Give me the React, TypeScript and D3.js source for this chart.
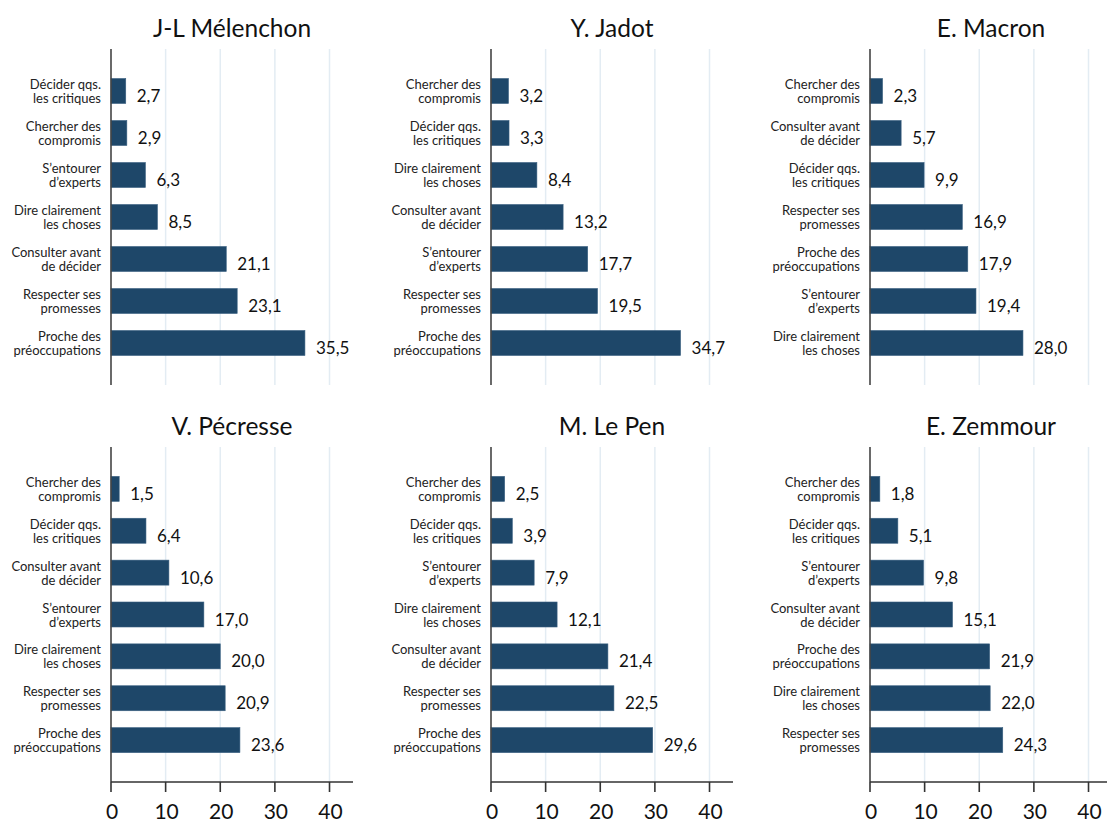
import React from "react";
import * as d3 from "d3";

const titles = ["J-L Mélenchon", "Y. Jadot", "E. Macron", "V. Pécresse", "M. Le Pen", "E. Zemmour"];

const melenchonCats = ["Décider qqs.|les critiques", "Chercher des|compromis", "S’entourer|d’experts", "Dire clairement|les choses", "Consulter avant|de décider", "Respecter ses|promesses", "Proche des|préoccupations"];
const melenchonVals = [2.7, 2.9, 6.3, 8.5, 21.1, 23.1, 35.5];

const jadotCats = ["Chercher des|compromis", "Décider qqs.|les critiques", "Dire clairement|les choses", "Consulter avant|de décider", "S’entourer|d’experts", "Respecter ses|promesses", "Proche des|préoccupations"];
const jadotVals = [3.2, 3.3, 8.4, 13.2, 17.7, 19.5, 34.7];

const macronCats = ["Chercher des|compromis", "Consulter avant|de décider", "Décider qqs.|les critiques", "Respecter ses|promesses", "Proche des|préoccupations", "S’entourer|d’experts", "Dire clairement|les choses"];
const macronVals = [2.3, 5.7, 9.9, 16.9, 17.9, 19.4, 28.0];

const pecresseCats = ["Chercher des|compromis", "Décider qqs.|les critiques", "Consulter avant|de décider", "S’entourer|d’experts", "Dire clairement|les choses", "Respecter ses|promesses", "Proche des|préoccupations"];
const pecresseVals = [1.5, 6.4, 10.6, 17.0, 20.0, 20.9, 23.6];

const lepenCats = ["Chercher des|compromis", "Décider qqs.|les critiques", "S’entourer|d’experts", "Dire clairement|les choses", "Consulter avant|de décider", "Respecter ses|promesses", "Proche des|préoccupations"];
const lepenVals = [2.5, 3.9, 7.9, 12.1, 21.4, 22.5, 29.6];

const zemmourCats = ["Chercher des|compromis", "Décider qqs.|les critiques", "S’entourer|d’experts", "Consulter avant|de décider", "Proche des|préoccupations", "Dire clairement|les choses", "Respecter ses|promesses"];
const zemmourVals = [1.8, 5.1, 9.8, 15.1, 21.9, 22.0, 24.3];

const xTicks = [0, 10, 20, 30, 40];

const panels = [
  { title: titles[0], cats: melenchonCats, vals: melenchonVals },
  { title: titles[1], cats: jadotCats, vals: jadotVals },
  { title: titles[2], cats: macronCats, vals: macronVals },
  { title: titles[3], cats: pecresseCats, vals: pecresseVals },
  { title: titles[4], cats: lepenCats, vals: lepenVals },
  { title: titles[5], cats: zemmourCats, vals: zemmourVals },
];

const W = 1107;
const H = 825;
const colX = [111, 491, 870];
const rowY = [[49, 385], [447, 782]];
const plotW = 242;
const FONT = "Lato, 'Open Sans', sans-serif";
const BAR = "#1e4769";
const GRID = "#e3ecf3";

function Panel({ p, col, row }: { p: { title: string; cats: string[]; vals: number[] }; col: number; row: number }) {
  const x0 = colX[col];
  const [top, bottom] = rowY[row];
  const x = d3.scaleLinear().domain([0, 44.3]).range([x0, x0 + plotW]);
  const y = d3.scalePoint<number>().domain(d3.range(p.vals.length)).range([top, bottom]).padding(1);
  const bh = 25;
  const showAxis = row === 1;
  const axisEnd = Math.min(x0 + plotW, W);
  return (
    <g>
      <text x={x0 + plotW / 2} y={top - 12} textAnchor="middle" fontFamily={FONT} fontSize={24.5} fill="#111">
        {p.title}
      </text>
      {xTicks.filter((t) => t > 0).map((t) => (
        <line key={t} x1={x(t)} x2={x(t)} y1={top} y2={bottom} stroke={GRID} strokeWidth={1.5} />
      ))}
      {p.vals.map((v, i) => {
        const cy = y(i) as number;
        const lines = p.cats[i].split("|");
        return (
          <g key={i}>
            <rect x={x(0)} y={cy - bh / 2} width={x(v) - x(0)} height={bh} fill={BAR} stroke="#3a6080" strokeWidth={0.6} />
            <text x={x(v) + 11} y={cy + 11} fontFamily={FONT} fontSize={17} fill="#111">
              {d3.format(".1f")(v).replace(".", ",")}
            </text>
            <text textAnchor="end" fontFamily={FONT} fontSize={13} fill="#222">
              <tspan x={x0 - 10} y={cy - 2}>{lines[0]}</tspan>
              <tspan x={x0 - 10} y={cy + 12}>{lines[1]}</tspan>
            </text>
          </g>
        );
      })}
      <line x1={x0} x2={x0} y1={top} y2={bottom} stroke="#444" strokeWidth={1.6} />
      {showAxis && (
        <g>
          <line x1={x0} x2={axisEnd} y1={bottom} y2={bottom} stroke="#333" strokeWidth={1.6} />
          {xTicks.map((t) => (
            <g key={t}>
              <line x1={x(t)} x2={x(t)} y1={bottom} y2={bottom + 10} stroke="#333" strokeWidth={1.6} />
              <text x={x(t) + 1} y={bottom + 37} textAnchor="middle" fontFamily={FONT} fontSize={21} fill="#111">
                {t}
              </text>
            </g>
          ))}
        </g>
      )}
    </g>
  );
}

export default function App() {
  return (
    <svg width={W} height={H} style={{ position: "absolute", left: 0, top: 0, background: "#fff" }}>
      <rect width={W} height={H} fill="#fff" />
      {panels.map((p, i) => (
        <Panel key={i} p={p} col={i % 3} row={Math.floor(i / 3)} />
      ))}
    </svg>
  );
}
